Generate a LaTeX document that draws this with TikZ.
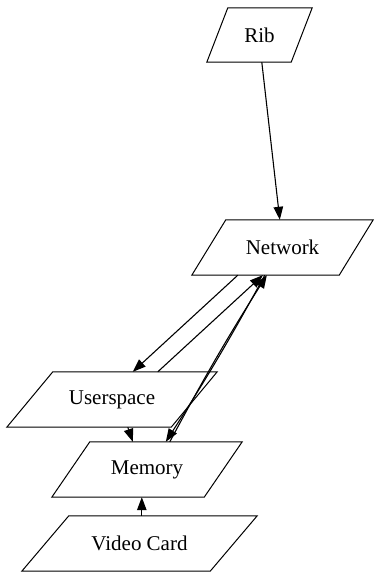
\documentclass[tikz,border=0pt]{standalone}
\usepackage{fontspec}
\setmainfont{Liberation Serif}
\usetikzlibrary{arrows.meta}
\newcommand{\parabox}[2]{\draw[line width=1pt] ([xshift=#2pt]#1.north west) -- (#1.north east) -- ([xshift=-#2pt]#1.south east) -- (#1.south west) -- cycle;}
\begin{document}
\begin{tikzpicture}[x=1pt,y=-1pt,
  box/.style={rectangle,inner sep=0pt,draw=none,minimum height=55pt,font=\fontsize{21}{24}\selectfont},
  arr/.style={line width=1.1pt,-{Triangle[length=13pt,width=9.5pt]}}]
\useasboundingbox (0,0) rectangle (375,572);
\node[box,minimum width=105pt,minimum height=54pt] (rib) at (259.5,35) {Rib};
\node[box,minimum width=181pt] (net) at (282.5,247.5) {Network};
\node[box,minimum width=210pt] (user) at (112,399.5) {Userspace};
\node[box,minimum width=190pt] (mem) at (147,469.5) {Memory};
\node[box,minimum width=235pt] (vid) at (139.5,543.5) {Video Card};
\parabox{rib}{21}
\parabox{net}{34}
\parabox{user}{46}
\parabox{mem}{38}
\parabox{vid}{47}
% edges
\draw[arr] ([xshift=55pt]rib.south west) -- ([xshift=88pt]net.north west);
\draw[arr] ([xshift=46pt]net.south west) -- ([xshift=126pt]user.north west);
\draw[arr] ([xshift=151pt]user.north west) -- ([xshift=71pt]net.south west);
\draw[arr] ([xshift=73pt]net.south west) to[bend left=2] ([xshift=114pt]mem.north west);
\draw[arr] ([xshift=118pt]mem.north west) to[bend left=2] ([xshift=75pt]net.south west);
\draw[arr] ([xshift=121pt]user.south west) -- ([xshift=81pt]mem.north west);
\draw[arr] ([xshift=120pt]vid.north west) -- ([xshift=90pt]mem.south west);
\end{tikzpicture}
\end{document}
